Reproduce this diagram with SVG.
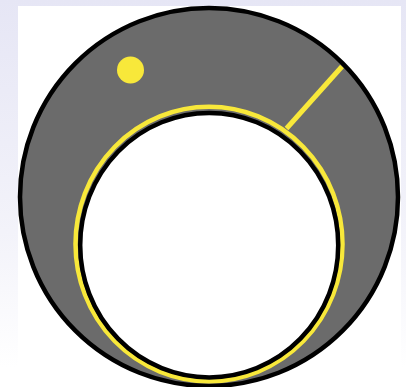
<svg xmlns="http://www.w3.org/2000/svg" width="406" height="387" viewBox="0 0 406 387">
<defs>
<linearGradient id="bg" x1="0" y1="0" x2="0" y2="1">
<stop offset="0" stop-color="#e6e6f5"/>
<stop offset="0.6" stop-color="#f3f3fa"/>
<stop offset="0.95" stop-color="#ffffff"/>
</linearGradient>
<style>
.yel{fill:none;stroke:#f8e83a;stroke-width:4.5}
.blk{stroke:#000;stroke-width:4.5}
</style>
</defs>
<rect x="0" y="0" width="406" height="387" fill="url(#bg)"/>
<rect x="18" y="6" width="383" height="381" fill="#ffffff"/>
<g id="outer">
<circle cx="209" cy="197" r="189" fill="#6b6b6b" class="blk"/>
</g>
<g id="dot">
<circle cx="130.5" cy="70" r="13.5" fill="#f8e83a"/>
</g>
<g id="connectors">
<line x1="342" y1="66.5" x2="286.5" y2="128.5" class="yel" style="stroke-width:5"/>
</g>
<g id="inner">
<ellipse cx="209" cy="244" rx="133.5" ry="137.2" class="yel"/>
<ellipse cx="209.2" cy="245.2" rx="129" ry="132.2" fill="#ffffff" class="blk"/>
</g>
</svg>
